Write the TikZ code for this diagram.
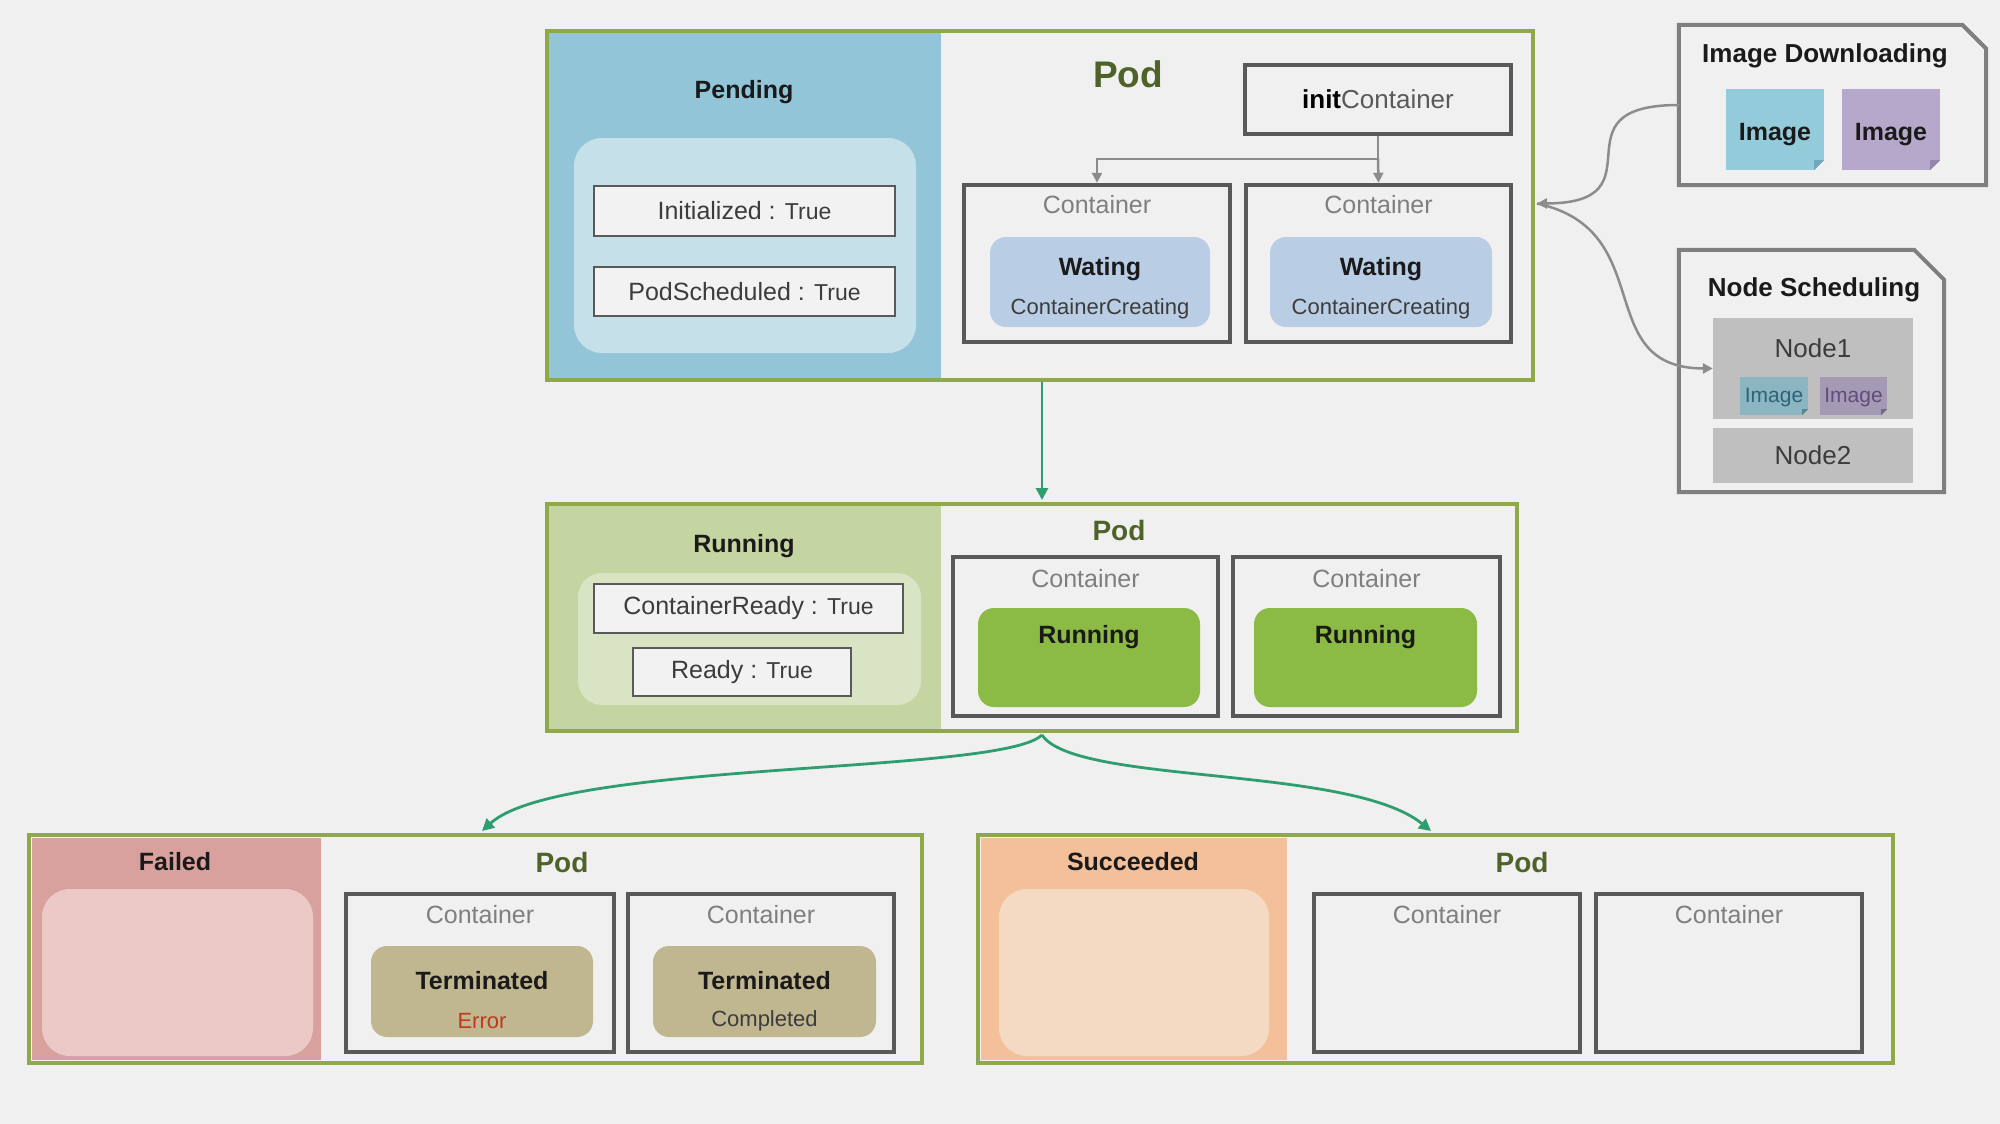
\documentclass[tikz,border=0pt]{standalone}
\usepackage{fontspec}
\setmainfont{Liberation Sans}
\usetikzlibrary{arrows.meta}
\definecolor{bgc}{HTML}{F0F0F0}
\definecolor{olivec}{HTML}{8FA84A}
\definecolor{podc}{HTML}{4F6228}
\definecolor{headc}{HTML}{1A1A1A}
\definecolor{pendc}{HTML}{93C5D8}
\definecolor{pendi}{HTML}{C6E0E9}
\definecolor{runc}{HTML}{C4D5A2}
\definecolor{runi}{HTML}{D8E4C3}
\definecolor{failc}{HTML}{D9A19E}
\definecolor{faili}{HTML}{EAC9C7}
\definecolor{succc}{HTML}{F4C09A}
\definecolor{succi}{HTML}{F5DAC3}
\definecolor{propline}{HTML}{595959}
\definecolor{propfill}{HTML}{F2F2F2}
\definecolor{contline}{HTML}{595959}
\definecolor{contc}{HTML}{7F7F7F}
\definecolor{waitc}{HTML}{B9CDE5}
\definecolor{rungreen}{HTML}{8CBB45}
\definecolor{termc}{HTML}{C0B68F}
\definecolor{errc}{HTML}{C0391B}
\definecolor{imgblue}{HTML}{93CBDB}
\definecolor{imgpurple}{HTML}{B6A8CB}
\definecolor{imgbluedk}{HTML}{6FA8BA}
\definecolor{imgpurpledk}{HTML}{9484AE}
\definecolor{nodegray}{HTML}{BFBFBF}
\definecolor{notec}{HTML}{7F7F7F}
\definecolor{arrgray}{HTML}{8C8C8C}
\definecolor{arrgreen}{HTML}{2E9E70}
\definecolor{smblue}{HTML}{2F6377}
\definecolor{smpurple}{HTML}{5E4E7C}
\newcommand\setfs[1]{\fontsize{#1}{#1}\selectfont}
\newcommand\dogfold[4]{%
  \fill[#3] ([xshift=-#2]#1.south east) -- (#1.south east) -- ([yshift=#2]#1.south east) -- cycle;
  \fill[#4] ([xshift=-#2]#1.south east) -- ([yshift=#2]#1.south east) -- ([xshift=-#2,yshift=#2]#1.south east) -- cycle;
}
\begin{document}
\begin{tikzpicture}[x=1pt,y=-1pt,
  panel/.style={fill=#1, inner sep=0pt, outer sep=0pt},
  softbox/.style={fill=#1, rounded corners=28pt, inner sep=0pt},
  podframe/.style={draw=olivec, line width=4pt, inner sep=0pt},
  propbox/.style={draw=propline, line width=2pt, fill=propfill, inner sep=0pt, font=\setfs{25}, text=headc!85},
  contframe/.style={draw=contline, line width=4.5pt, inner sep=0pt},
  statebox/.style={fill=#1, rounded corners=16pt, inner sep=0pt},
  hdr/.style={inner sep=0pt, font=\bfseries\setfs{25}, text=headc},
  podtxt/.style={inner sep=0pt, font=\bfseries\setfs{28}, text=podc},
  conttxt/.style={inner sep=0pt, font=\setfs{25}, text=contc},
  subtxt/.style={inner sep=0pt, font=\setfs{22}, text=#1},
  garr/.style={draw=arrgray, line width=2.5pt, -{Triangle[width=10pt,length=10pt]}},
  grarr/.style={draw=arrgreen, line width=2.8pt, -{Triangle[width=12pt,length=12pt]}},
  tile/.style={fill=#1, inner sep=0pt},
  notebox/.style={draw=notec, line width=4pt, line join=miter},
]
\fill[bgc] (0,0) rectangle (2000,1124);
\useasboundingbox (0,0) rectangle (2000,1124);

% ================= Pending =================
\node[panel=pendc, minimum width=392pt, minimum height=345pt] (pendpanel) at (745,205.5) {};
\node[softbox=pendi, minimum width=342pt, minimum height=215pt] (pendin) at (745,245.5) {};
\node[propbox, minimum width=301pt, minimum height=50pt] (initd) at (744.5,211) {Initialized : {\setfs{23}True}};
\node[propbox, minimum width=301pt, minimum height=49pt] (podsch) at (744.5,291.5) {PodScheduled : {\setfs{23}True}};
\node[hdr] (pendlbl) at (744,92) {Pending};
\node[podframe, minimum width=986pt, minimum height=349pt] (top) at (1040,205.5) {};
\node[podtxt, font=\bfseries\setfs{37}] (pod1) at (1128,74) {Pod};
\node[contframe, minimum width=266pt, minimum height=69pt, font=\setfs{26}] (initc) at (1378,99.5) {\textbf{init}{\color{propline}Container}};
\node[contframe, minimum width=266pt, minimum height=157pt] (c1a) at (1097,263.5) {};
\node[contframe, minimum width=265pt, minimum height=157pt] (c1b) at (1378.5,263.5) {};
\node[conttxt] (c1al) at (1097,205) {Container};
\node[conttxt] (c1bl) at (1378.5,205) {Container};
\node[statebox=waitc, minimum width=220pt, minimum height=90pt] (w1a) at (1100,282) {};
\node[statebox=waitc, minimum width=222pt, minimum height=90pt] (w1b) at (1381,282) {};
\node[hdr] (w1at) at (1100,269) {Wating};
\node[hdr] (w1bt) at (1381,269) {Wating};
\node[subtxt=headc!85] (w1as) at (1100,309) {ContainerCreating};
\node[subtxt=headc!85] (w1bs) at (1381,309) {ContainerCreating};
\coordinate (split) at (1378,159);
\draw[garr] (initc.south) -- (split) -| (c1a.north);
\draw[garr] (split) -- (c1b.north);

% ================= Image Downloading =================
\node[minimum width=307pt, minimum height=160pt, inner sep=0pt] (imgdl) at (1832.5,105) {};
\draw[notebox] (imgdl.south west) -- (imgdl.north west) -- ([xshift=-24pt]imgdl.north east) -- ([yshift=-24pt]imgdl.north east) -- (imgdl.south east) -- cycle;
\node[hdr, font=\bfseries\setfs{26}] (imgdlt) at (1825,56) {Image Downloading};
\node[tile=imgblue, minimum width=98pt, minimum height=81pt] (imga) at (1775,129.5) {};
\node[tile=imgpurple, minimum width=98pt, minimum height=81pt] (imgb) at (1891,129.5) {};
\dogfold{imga}{10pt}{bgc}{imgbluedk}
\dogfold{imgb}{10pt}{bgc}{imgpurpledk}
\node[hdr] (imgat) at (1775,135) {Image};
\node[hdr] (imgbt) at (1891,135) {Image};

% ================= Node Scheduling =================
\node[minimum width=265pt, minimum height=242pt, inner sep=0pt] (nsch) at (1811.5,371) {};
\draw[notebox] (nsch.south west) -- (nsch.north west) -- ([xshift=-30pt]nsch.north east) -- ([yshift=-30pt]nsch.north east) -- (nsch.south east) -- cycle;
\node[hdr, font=\bfseries\setfs{26}] (nscht) at (1814,290) {Node Scheduling};
\node[tile=nodegray, minimum width=200pt, minimum height=101pt] (node1) at (1813,368.5) {};
\node[tile=nodegray, minimum width=200pt, minimum height=55pt, font=\setfs{26}, text=headc!85] (node2) at (1813,455.5) {Node2};
\node[inner sep=0pt, font=\setfs{26}, text=headc!85] (node1t) at (1813,348) {Node1};
\node[tile=imgblue!85!black!90, minimum width=68pt, minimum height=38pt] (sma) at (1774,396) {};
\node[tile=imgpurple!85!black!90, minimum width=67pt, minimum height=38pt] (smb) at (1853.5,396) {};
\dogfold{sma}{6pt}{nodegray}{imgbluedk!80!black}
\dogfold{smb}{6pt}{nodegray}{imgpurpledk!80!black}
\node[subtxt=smblue, font=\setfs{21}] (smat) at (1774,397) {Image};
\node[subtxt=smpurple, font=\setfs{21}] (smbt) at (1853.5,397) {Image};

\coordinate (podR) at ([xshift=2pt,yshift=2pt]top.east);
\draw[garr] (imgdl.west) .. controls (1549,105) and (1665,203) .. (podR);
\draw[garr] (podR) .. controls (1660,230) and (1590,368) .. (node1.west);

% ================= Running =================
\node[panel=runc, minimum width=392pt, minimum height=223pt] (runpanel) at (745,617.5) {};
\node[softbox=runi, rounded corners=24pt, minimum width=343pt, minimum height=132pt] (runin) at (749.5,639) {};
\node[propbox, minimum width=309pt, minimum height=49pt] (cready) at (748.5,608.5) {ContainerReady : {\setfs{23}True}};
\node[propbox, minimum width=218pt, minimum height=48pt] (ready) at (742,672) {Ready : {\setfs{23}True}};
\node[hdr] (runlbl) at (744,546) {Running};
\node[podframe, minimum width=970pt, minimum height=227pt] (run) at (1032,617.5) {};
\node[podtxt] (pod2) at (1119,530) {Pod};
\node[contframe, minimum width=265pt, minimum height=159pt] (c2a) at (1085.5,636.5) {};
\node[contframe, minimum width=267pt, minimum height=159pt] (c2b) at (1366.5,636.5) {};
\node[conttxt] (c2al) at (1085.5,579) {Container};
\node[conttxt] (c2bl) at (1366.5,579) {Container};
\node[statebox=rungreen, minimum width=222pt, minimum height=99pt] (r2a) at (1089,657.5) {};
\node[statebox=rungreen, minimum width=223pt, minimum height=99pt] (r2b) at (1365.5,657.5) {};
\node[hdr] (r2at) at (1089,637) {Running};
\node[hdr] (r2bt) at (1365.5,637) {Running};

% ================= Failed =================
\node[panel=failc, minimum width=289pt, minimum height=222pt] (failpanel) at (176.5,949) {};
\node[softbox=faili, minimum width=271pt, minimum height=167pt] (failin) at (177.5,972.5) {};
\node[hdr] (faillbl) at (175,862) {Failed};
\node[podframe, minimum width=893pt, minimum height=228pt] (fail) at (475.5,949) {};
\node[podtxt] (pod3) at (562,862) {Pod};
\node[contframe, minimum width=268pt, minimum height=158pt] (c3a) at (480,973) {};
\node[contframe, minimum width=266pt, minimum height=158pt] (c3b) at (761,973) {};
\node[conttxt] (c3al) at (480,915) {Container};
\node[conttxt] (c3bl) at (761,915) {Container};
\node[statebox=termc, minimum width=222pt, minimum height=91pt] (t3a) at (482,991.5) {};
\node[statebox=termc, minimum width=223pt, minimum height=91pt] (t3b) at (764.5,991.5) {};
\node[hdr] (t3at) at (482,981) {Terminated};
\node[hdr] (t3bt) at (764.5,981) {Terminated};
\node[subtxt=errc] (t3as) at (482,1021) {Error};
\node[subtxt=headc!85] (t3bs) at (764.5,1021) {Completed};

% ================= Succeeded =================
\node[panel=succc, minimum width=306pt, minimum height=222pt] (succpanel) at (1134,949) {};
\node[softbox=succi, minimum width=270pt, minimum height=167pt] (succin) at (1134,972.5) {};
\node[hdr] (succlbl) at (1133,862) {Succeeded};
\node[podframe, minimum width=915pt, minimum height=228pt] (succ) at (1435.5,949) {};
\node[podtxt] (pod4) at (1522,862) {Pod};
\node[contframe, minimum width=266pt, minimum height=158pt] (c4a) at (1447,973) {};
\node[contframe, minimum width=266pt, minimum height=158pt] (c4b) at (1729,973) {};
\node[conttxt] (c4al) at (1447,915) {Container};
\node[conttxt] (c4bl) at (1729,915) {Container};

% ================= Green transitions =================
\draw[grarr] ([xshift=2pt]top.south) -- ([xshift=10pt,yshift=2pt]run.north);
\coordinate (runbot) at ([xshift=10pt,yshift=-2pt]run.south);
\draw[grarr] (runbot) .. controls (1000,775) and (560,760) .. ([xshift=6.5pt,yshift=2pt]fail.north);
\draw[grarr] (runbot) .. controls (1075,785) and (1350,765) .. ([xshift=-4.5pt,yshift=2pt]succ.north);
\end{tikzpicture}
\end{document}
